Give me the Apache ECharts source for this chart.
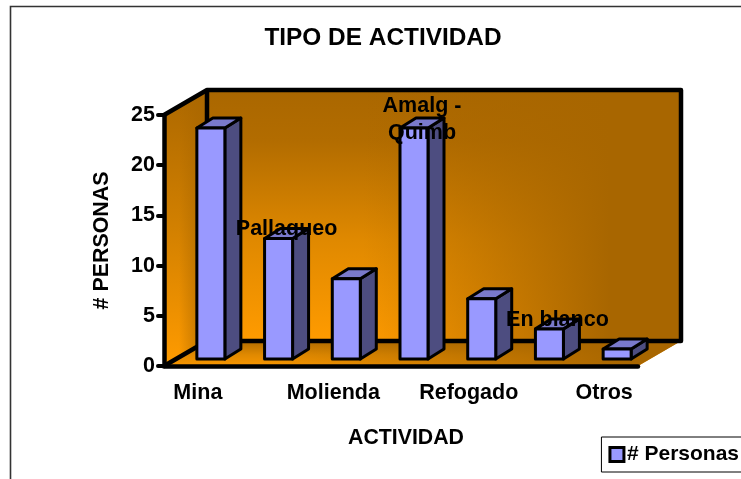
<!DOCTYPE html>
<html>
<head>
<meta charset="utf-8">
<style>
	html, body { margin: 0; padding: 0; background: #fff; }
	#main { width: 741px; height: 479px; }
</style>
<script src="https://cdn.jsdelivr.net/npm/echarts@6/dist/echarts.min.js"></script>
</head>
<body>
<div id="main"></div>
<script>
var categories = ['Mina', 'Pallaqueo', 'Molienda', 'Amalg -\nQuimb', 'Refogado', 'En blanco', 'Otros'];
var personas = [23, 12, 8, 23, 6, 3, 1];
var yTicks = [0, 5, 10, 15, 20, 25];

var fontName = '"Liberation Sans", Arial, sans-serif';

// fake 3D: how far the back wall and the bars are shifted from the axes
var wallDx = 43, wallDy = -25;
var barDx = 13, barDy = -7, barHalf = 14, depthDx = 16, depthDy = -10;

function poly(points, fill, lineWidth) {
	return {
		type: 'polygon',
		shape: { points: points },
		style: { fill: fill, stroke: lineWidth ? '#000' : null, lineWidth: lineWidth || 0, lineJoin: 'round' }
	};
}

function vertical(stops) {
	return new echarts.graphic.LinearGradient(0, 0, 0, 1, stops);
}

function horizontal(stops) {
	return new echarts.graphic.LinearGradient(0, 0, 1, 0, stops);
}

// walls and floor
function renderWalls(params, api) {
	var a = api.coord([0, 0]);
	var b = api.coord([categories.length - 1, yTicks[yTicks.length - 1]]);
	var step = api.size([1, 0])[0];
	var left = a[0] - step / 2;
	var right = b[0] + step / 2;
	var top = b[1];
	var bottom = a[1];
	var back = [[left + wallDx, top + wallDy], [right + wallDx, top + wallDy], [right + wallDx, bottom + wallDy], [left + wallDx, bottom + wallDy]];
	var side = [[left, top], [left + wallDx, top + wallDy], [left + wallDx, bottom + wallDy], [left, bottom]];
	var floor = [[left, bottom], [left + wallDx, bottom + wallDy], [right + wallDx, bottom + wallDy], [right, bottom]];
	return {
		type: 'group',
		children: [
			poly(back, vertical([
				{ offset: 0, color: '#aa6700' },
				{ offset: 0.2, color: '#b26c00' },
				{ offset: 0.6, color: '#e08900' },
				{ offset: 1, color: '#ff9b00' }
			])),
			poly(back, horizontal([
				{ offset: 0, color: 'rgba(168,102,0,0)' },
				{ offset: 0.33, color: 'rgba(168,102,0,0)' },
				{ offset: 0.85, color: 'rgba(168,102,0,1)' },
				{ offset: 1, color: 'rgba(168,102,0,1)' }
			])),
			poly(side, vertical([
				{ offset: 0, color: '#ac6800' },
				{ offset: 0.5, color: '#d28000' },
				{ offset: 1, color: '#ff9b00' }
			])),
			poly(side, horizontal([
				{ offset: 0, color: 'rgba(170,103,0,0)' },
				{ offset: 0.35, color: 'rgba(170,103,0,0)' },
				{ offset: 1, color: 'rgba(170,103,0,0.85)' }
			])),
			poly(floor, vertical([
				{ offset: 0, color: '#b06c00' },
				{ offset: 0.55, color: '#e08900' },
				{ offset: 1, color: '#f89600' }
			])),
			poly(floor, horizontal([
				{ offset: 0, color: 'rgba(168,102,0,0)' },
				{ offset: 0.2, color: 'rgba(168,102,0,0)' },
				{ offset: 0.9, color: 'rgba(168,102,0,1)' },
				{ offset: 1, color: 'rgba(168,102,0,1)' }
			])),
			{ type: 'polyline', shape: { points: [[left, top], [left + wallDx, top + wallDy], [right + wallDx, top + wallDy], [right + wallDx, bottom + wallDy], [left + wallDx, bottom + wallDy], [left, bottom]] },
				style: { fill: null, stroke: '#000', lineWidth: 4.5, lineJoin: 'round' } },
			{ type: 'line', shape: { x1: left + wallDx, y1: top + wallDy, x2: left + wallDx, y2: bottom + wallDy },
				style: { stroke: '#000', lineWidth: 4.5 } }
		]
	};
}

function renderBar(params, api) {
	var i = api.value(0);
	var base = api.coord([i, 0]);
	var head = api.coord([i, api.value(1)]);
	var l = base[0] + barDx - barHalf;
	var r = base[0] + barDx + barHalf;
	var b = base[1] + barDy;
	var t = head[1] + barDy;
	var group = [
		poly([[r, b], [r + depthDx, b + depthDy], [r + depthDx, t + depthDy], [r, t]], '#4d4d80', 3),
		poly([[l, t], [l + depthDx, t + depthDy], [r + depthDx, t + depthDy], [r, t]], '#7a7acc', 3),
		poly([[l, b], [r, b], [r, t], [l, t]], '#9999ff', 3)
	];
	// the labels the axis skips sit on top of their bars
	if (i % 2 === 1) {
		group.push({
			type: 'text',
			z2: 10,
			style: {
				x: (l + r + depthDx) / 2,
				y: t + depthDy + 1,
				text: categories[i],
				align: 'center',
				verticalAlign: 'middle',
				fill: '#000',
				font: 'bold 21.5px ' + fontName,
				lineHeight: 27
			}
		});
	}
	return { type: 'group', children: group };
}

var chart = echarts.init(document.getElementById('main'), null, { renderer: 'canvas' });

chart.setOption({
	animation: false,
	backgroundColor: '#fff',
	textStyle: { fontFamily: fontName },
	title: {
		text: 'TIPO DE ACTIVIDAD',
		left: 378,
		top: 21,
		textAlign: 'center',
		textStyle: { fontSize: 24.4, fontWeight: 'bold', color: '#000', fontFamily: fontName }
	},
	legend: {
		right: -1,
		top: 437,
		padding: [7, 3, 7, 7],
		data: ['# Personas'],
		icon: 'rect',
		itemWidth: 14,
		itemHeight: 14,
		itemGap: 0,
		borderColor: '#000',
		borderWidth: 1,
		itemStyle: { borderColor: '#000', borderWidth: 3 },
		textStyle: { fontSize: 21, lineHeight: 21, fontWeight: 'bold', color: '#000', fontFamily: fontName, padding: [0, 0, 0, -2] }
	},
	grid: { left: 164, top: 115, width: 474, height: 251 },
	xAxis: {
		type: 'category',
		data: categories,
		z: 5,
		name: 'ACTIVIDAD',
		nameLocation: 'middle',
		nameGap: 62,
		nameTextStyle: { fontSize: 21.3, fontWeight: 'bold', color: '#000', padding: [0, 0, 0, 10] },
		axisLine: { lineStyle: { color: '#000', width: 4.5 } },
		axisTick: { alignWithLabel: false, length: 7, lineStyle: { color: '#000', width: 4, cap: 'round' } },
		axisLabel: {
			interval: function(index) { return index % 2 === 0; },
			margin: 16,
			fontSize: 21.5,
			fontWeight: 'bold',
			color: '#000'
		}
	},
	yAxis: {
		type: 'value',
		min: 0,
		max: 25,
		interval: 5,
		z: 5,
		name: '# PERSONAS',
		nameLocation: 'middle',
		nameGap: 51,
		nameTextStyle: { fontSize: 21.4, fontWeight: 'bold', color: '#000' },
		axisLine: { show: true, lineStyle: { color: '#000', width: 4.5 } },
		axisTick: { show: true, length: 6, lineStyle: { color: '#000', width: 4, cap: 'round' } },
		axisLabel: { margin: 9, fontSize: 21.5, fontWeight: 'bold', color: '#000', padding: [3, 0, 0, 0] },
		splitLine: { show: false }
	},
	series: [
		{
			type: 'custom',
			name: 'paredes',
			z: 1,
			silent: true,
			coordinateSystem: 'cartesian2d',
			renderItem: renderWalls,
			data: [[0, 0]],
			encode: { x: 0, y: 1 }
		},
		{
			type: 'custom',
			name: '# Personas',
			z: 6,
			coordinateSystem: 'cartesian2d',
			itemStyle: { color: '#9999ff' },
			renderItem: renderBar,
			data: personas.map(function(v, i) { return [i, v]; }),
			encode: { x: 0, y: 1 }
		}
	],
	graphic: [
		// outer chart frame, only left and top show
		{
			type: 'polyline',
			z: 0,
			shape: { points: [[10.5, 479], [10.5, 6.5], [741, 6.5]] },
			style: { fill: null, stroke: '#333', lineWidth: 1.6 }
		}
	]
});
</script>
</body>
</html>
